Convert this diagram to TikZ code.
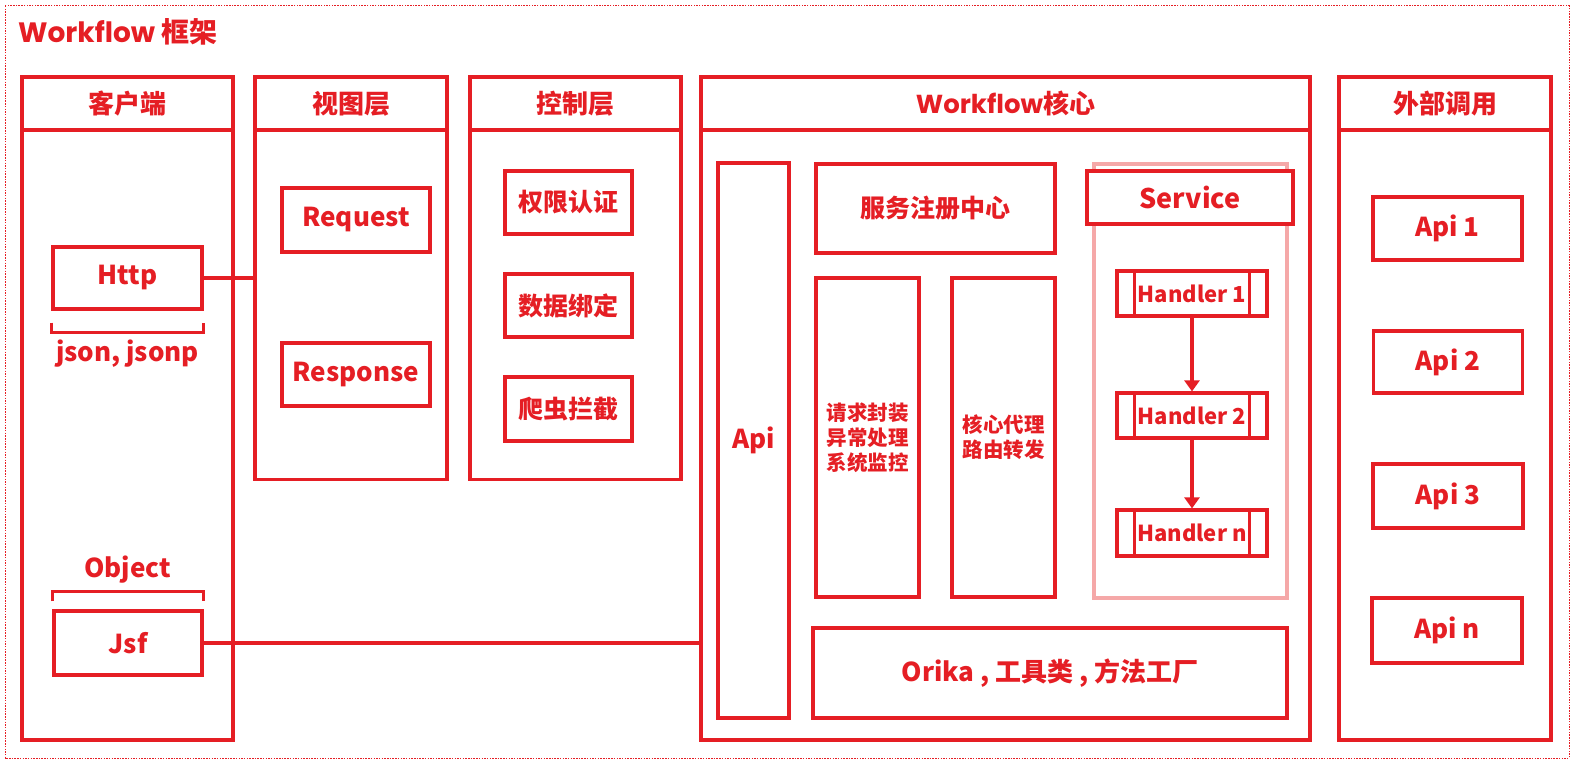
\documentclass[tikz,border=0pt]{standalone}
\usepackage{fontspec}
\setmainfont{Noto Sans CJK SC}
\newfontfamily\poppins{Poppins}
\usetikzlibrary{arrows.meta}
\definecolor{wred}{RGB}{229,30,36}
\definecolor{wpink}{RGB}{245,168,168}
\newcommand{\fs}[1]{\fontsize{#1}{#1}\selectfont\bfseries}
\tikzset{
  lay/.style={draw=wred, line width=3.2pt, inner sep=0pt, rectangle, text=wred, fill=white},
  hdr/.style={lay, minimum height=53pt, font=\fs{26}},
  box/.style={lay, font=\fs{26}},
  cbox/.style={lay, font=\fs{25}},
  hbox/.style={lay, minimum width=150pt, font=\fs{22}},
  wline/.style={draw=wred, line width=3.2pt},
  lbl/.style={text=wred, inner sep=0pt, font=\fs{26}},
  outer/.style={draw=wred, line width=1pt, dash pattern=on 1.5pt off 1.2pt},
}
\begin{document}
\begin{tikzpicture}[x=1pt, y=-1pt]
\useasboundingbox (0,0) rectangle (1572,762);
\draw[outer] (5,6) rectangle (1569,758);
\node[lbl, anchor=west, font=\fs{28}] (title) at (18,32) {{\poppins\bfseries Workflow} 框架};

% columns
\node[lay, minimum width=211pt, minimum height=663pt] (client) at (127.5,408.5) {};
\node[hdr, minimum width=211pt] (clienthd) at (127.5,103.5) {客户端};
\node[lay, minimum width=192pt, minimum height=402pt] (view) at (351,278.5) {};
\node[hdr, minimum width=192pt] (viewhd) at (351,103.5) {视图层};
\node[lay, minimum width=211pt, minimum height=402pt] (ctrl) at (575.5,278.5) {};
\node[hdr, minimum width=211pt] (ctrlhd) at (575.5,103.5) {控制层};
\node[lay, minimum width=609pt, minimum height=663pt] (core) at (1005.5,408.5) {};
\node[hdr, minimum width=609pt] (corehd) at (1005.5,103.5) {{\poppins\bfseries Workflow}核心};
\node[lay, minimum width=212pt, minimum height=663pt] (ext) at (1445,408.5) {};
\node[hdr, minimum width=212pt] (exthd) at (1445,103.5) {外部调用};

% client
\node[box, minimum width=149pt, minimum height=62pt] (http) at (127.5,278) {Http};
\node[box, minimum width=148pt, minimum height=64pt] (jsf) at (128,643) {Jsf};
\draw[wline] ([yshift=-12pt]http.south west) -- ++(0,10) -| ([yshift=-12pt]http.south east);
\node[lbl] (json) at (127.5,354) {json, jsonp};
\draw[wline] ([yshift=8pt]jsf.north west) -- ++(0,-10) -| ([yshift=8pt]jsf.north east);
\node[lbl] (obj) at (127.5,570) {Object};

% view
\node[box, minimum width=148pt, minimum height=64pt] (req) at (356,220) {Request};
\node[box, minimum width=148pt, minimum height=63pt] (resp) at (356,374.5) {Response};

% control
\node[cbox, minimum width=127pt, minimum height=63pt] (auth) at (568.5,202.5) {权限认证};
\node[cbox, minimum width=127pt, minimum height=63pt] (bind) at (568.5,305.5) {数据绑定};
\node[cbox, minimum width=127pt, minimum height=64pt] (crawl) at (568.5,409) {爬虫拦截};

% core
\node[box, minimum width=71pt, minimum height=555pt] (api) at (753.5,440.5) {Api};
\node[cbox, minimum width=239pt, minimum height=89pt] (reg) at (935.5,208.5) {服务注册中心};
\node[lay, minimum width=103pt, minimum height=319pt, align=center, font=\fontsize{20.5}{25}\selectfont\bfseries] (wrap) at (867.5,437.5) {请求封装\\异常处理\\系统监控};
\node[lay, minimum width=103pt, minimum height=319pt, align=center, font=\fontsize{20.5}{25}\selectfont\bfseries] (proxy) at (1003.5,437.5) {核心代理\\路由转发};
\node[box, minimum width=474pt, minimum height=90pt] (orika) at (1050,673) {Orika , 工具类 , 方法工厂};

% service
\node[lay, draw=wpink, minimum width=193pt, minimum height=434pt] (svc) at (1190.5,381) {};
\node[box, minimum width=206pt, minimum height=53pt, font=\fs{27}] (svchd) at (1190,197.5) {Service};
\node[hbox, minimum height=45pt] (h1) at (1192,293.5) {Handler 1};
\node[hbox, minimum height=45pt] (h2) at (1192,415.5) {Handler 2};
\node[hbox, minimum height=46pt] (hn) at (1192,533) {Handler n};
\foreach \h in {h1,h2,hn}{
  \draw[wline] ([xshift=19pt]\h.north west) -- ([xshift=19pt]\h.south west);
  \draw[wline] ([xshift=-19pt]\h.north east) -- ([xshift=-19pt]\h.south east);
}
\draw[wline, -{Triangle[length=11pt,width=15pt]}] (h1.south) -- (h2.north);
\draw[wline, -{Triangle[length=11pt,width=15pt]}] (h2.south) -- (hn.north);

% external
\node[box, minimum width=149pt, minimum height=63pt] (a1) at (1447.5,228.5) {Api 1};
\node[box, minimum width=149pt, minimum height=62pt] (a2) at (1448,362) {Api 2};
\node[box, minimum width=150pt, minimum height=64pt] (a3) at (1448,496) {Api 3};
\node[box, minimum width=150pt, minimum height=65pt] (an) at (1447,630.5) {Api n};

% connectors
\draw[wline] (http.east) -- (http.east -| view.west);
\draw[wline] (jsf.east) -- (jsf.east -| core.west);
\end{tikzpicture}
\end{document}
